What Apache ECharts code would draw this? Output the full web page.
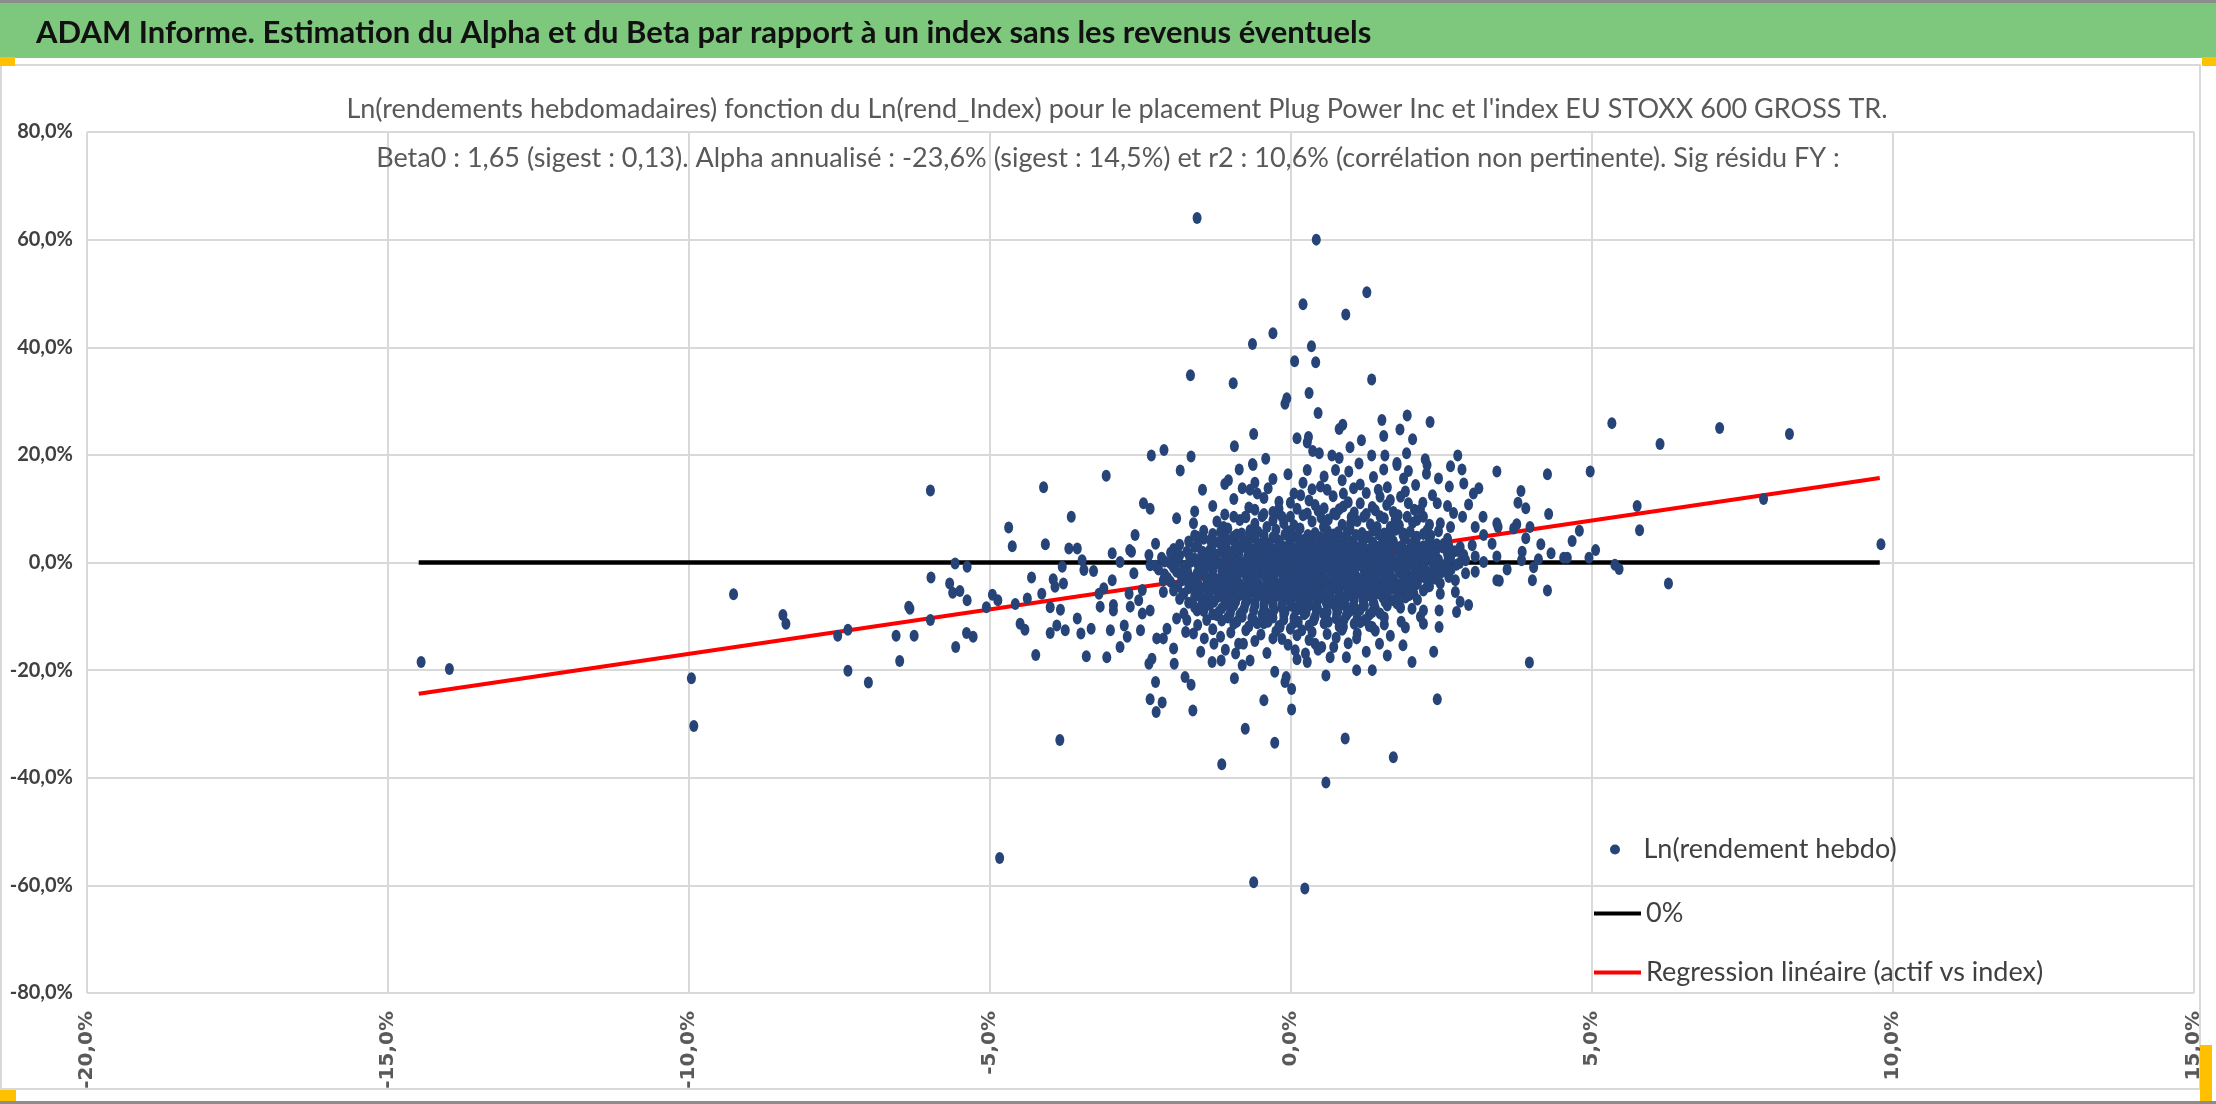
<!DOCTYPE html>
<html>
<head>
<meta charset="utf-8">
<title>ADAM Informe - Alpha Beta</title>
<script src="https://cdn.jsdelivr.net/npm/echarts@6/dist/echarts.min.js"></script>
<style>
  html, body { margin: 0; padding: 0; background: #ffffff; }
  #main { width: 2216px; height: 1104px; }
</style>
</head>
<body>
<div id="main"></div>
<script>
// textes
var titleText = "ADAM Informe. Estimation du Alpha et du Beta par rapport à un index sans les revenus éventuels";
var subLines = [
  "Ln(rendements hebdomadaires) fonction du Ln(rend_Index) pour le placement Plug Power Inc et l'index EU STOXX 600 GROSS TR.",
  "Beta0 : 1,65 (sigest : 0,13). Alpha annualisé : -23,6% (sigest : 14,5%) et r2 : 10,6% (corrélation non pertinente). Sig résidu FY :"
];
var seriesNames = ['Ln(rendement hebdo)', '0%', 'Regression linéaire (actif vs index)'];

// axes (en %)
var xTicks = { min: -20, max: 15, step: 5 };
var yTicks = { min: -80, max: 80, step: 20 };

// points isoles: [rend_index %, rend_actif %]
var leftPts = [[-14.45,-18.5],[-13.98,-19.8],[-9.96,-21.5],[-9.92,-30.4],[-9.26,-5.9],[-8.44,-9.75],[-8.39,-11.4],[-7.53,-13.6],[-7.36,-12.5],[-7.36,-20.1],[-7.02,-22.3],[-6.56,-13.6],[-6.50,-18.3],[-6.35,-8.2],[-6.33,-8.6],[-6.26,-13.6],[-5.99,13.4],[-5.98,-2.8],[-5.99,-10.7],[-5.67,-3.9],[-5.62,-5.6],[-5.58,-0.2],[-5.57,-15.7],[-5.50,-5.3],[-5.38,-0.8],[-5.38,-7.0],[-5.39,-13.1],[-5.28,-13.8],[-5.06,-8.3],[-4.96,-6.0],[-4.87,-7.0],[-4.84,-54.9],[-4.69,6.5],[-4.63,3.0],[-4.58,-7.7],[-4.50,-11.4],[-4.42,-12.5],[-4.38,-6.7],[-4.31,-2.8],[-4.24,-17.2],[-4.14,-5.8],[-4.11,14.0],[-4.08,3.4],[-4.00,-8.3],[-4.00,-13.1],[-3.95,-3.1],[-3.83,-8.8]];

var topPts = [[-1.56,64.0],[0.42,60.0],[1.26,50.2],[0.20,48.0],[0.91,46.1],[-0.30,42.6],[-0.64,40.6],[0.34,40.2],[0.06,37.4],[0.41,37.2],[-1.67,34.8],[-0.96,33.3],[1.34,34.0],[-0.07,30.5],[-0.10,29.5],[0.30,31.5],[0.45,27.8],[1.51,26.5],[1.93,27.3],[2.31,26.1],[0.86,25.6],[0.80,24.8],[1.54,23.5],[1.81,24.7],[2.02,22.9],[-0.62,23.9],[0.10,23.1],[0.29,23.3],[0.27,22.3],[0.98,21.4],[1.17,22.7],[-0.94,21.6],[-2.32,19.9],[-2.11,20.9],[-1.66,19.7],[-0.42,19.3],[-0.64,18.3],[0.36,20.7],[0.47,20.3],[0.68,19.9],[0.80,19.4],[1.34,19.9],[1.56,19.9],[1.92,20.3],[2.23,19.2],[2.77,19.9],[1.76,18.5]];

var bottomPts = [[-3.84,-33.0],[-2.34,-25.4],[-2.14,-26.0],[-2.24,-27.8],[-2.25,-22.2],[-1.66,-22.7],[-1.63,-27.5],[-1.15,-37.5],[-0.76,-30.9],[-0.45,-25.6],[-0.27,-33.5],[0.01,-23.5],[0.01,-27.3],[-0.10,-22.2],[0.90,-32.7],[1.70,-36.2],[2.43,-25.4],[0.58,-40.9],[-0.62,-59.4],[0.23,-60.6]];

var rightPts = [[5.33,25.9],[7.12,25.0],[6.13,22.0],[8.28,23.9],[4.26,16.4],[4.97,16.9],[3.82,13.3],[3.77,11.1],[3.90,10.1],[4.28,9.0],[5.75,10.5],[7.85,11.8],[3.44,6.6],[3.75,7.1],[3.70,6.3],[3.97,6.6],[4.79,5.9],[5.79,6.0],[3.90,4.5],[4.15,3.4],[4.67,4.0],[3.84,2.0],[3.83,0.4],[4.11,0.6],[4.32,1.7],[4.53,0.9],[4.59,0.9],[4.95,0.9],[5.06,2.3],[4.03,-0.9],[3.59,-1.3],[5.38,-0.4],[5.45,-1.2],[3.46,-3.4],[4.01,-3.3],[4.26,-5.2],[6.27,-3.9],[9.80,3.4],[3.96,-18.6]];

var centerPts = [[-3.07,16.1],[-1.84,17.1],[-0.86,17.3],[-0.63,18.1],[0.27,17.2],[0.74,17.2],[0.96,16.9],[1.13,18.4],[1.54,17.3],[1.76,18.1],[2.26,18.1],[2.65,17.9],[2.84,17.3],[3.42,16.9],[-1.04,15.3],[-1.47,13.5],[-0.81,13.8],[-0.68,13.5],[-0.38,13.8],[-0.56,12.8],[0.16,12.5],[0.49,14.1],[0.60,13.5],[0.87,12.8],[1.04,13.8],[1.37,15.9],[1.87,15.6],[2.07,14.4],[2.45,15.6],[2.63,14.1],[2.87,14.7],[3.03,12.8],[3.12,13.8],[1.48,12.2],[1.82,12.2],[-2.45,11.0],[-2.34,10.0],[-0.20,11.3],[-0.01,11.1],[0.40,10.7],[0.87,10.4],[1.15,11.0],[1.59,10.7],[1.95,11.0],[2.19,11.1],[2.43,11.0],[-3.65,8.5],[-1.62,7.3],[-1.23,7.6],[-1.12,6.6],[-0.95,8.5],[-0.76,8.5],[-0.48,8.6],[-0.23,9.1],[-0.01,8.5],[0.27,9.1],[0.71,9.1],[1.21,8.5],[1.73,7.9],[1.93,8.5],[2.09,7.9],[2.48,7.3],[2.65,6.6],[2.85,8.5],[3.06,6.6],[3.19,8.5],[3.42,7.3],[-2.59,5.1],[-2.68,2.3],[-2.65,2.0],[-2.25,3.5],[-3.69,2.6],[-3.55,2.6],[-3.47,0.4],[-2.97,1.7],[-2.84,0.1],[-2.36,1.4],[-1.98,1.4],[-1.73,2.0],[-1.56,4.8],[-1.34,4.2],[-1.17,5.7],[-0.95,4.8],[-0.68,6.0],[-0.40,6.6],[-0.12,7.3],[0.54,6.6],[0.99,7.3],[1.43,6.6],[1.87,5.4],[2.26,6.0],[2.54,3.5],[2.81,2.9],[3.01,3.2],[3.20,5.1],[3.34,3.5],[3.42,1.1],[3.06,1.1],[3.20,0.1],[2.87,1.4],[2.90,-2.0],[3.06,-1.7],[3.42,-3.3],[2.59,-1.4],[2.73,-3.3],[2.73,-5.5],[2.81,-7.3],[2.95,-7.9],[2.75,-9.2],[2.46,-8.9],[2.46,-12.0],[2.37,-16.6],[2.15,-10.1],[2.20,-8.9],[2.01,-8.6],[2.01,-18.5],[1.86,-15.4],[1.83,-11.0],[1.79,-7.6],[1.47,-15.1],[1.35,-20.0],[1.09,-20.0],[1.09,-14.1],[1.23,-10.7],[1.35,-12.0],[0.92,-17.6],[0.87,-12.0],[0.58,-21.0],[0.65,-17.6],[0.71,-15.7],[0.51,-15.7],[0.40,-15.1],[0.27,-18.5],[0.24,-16.9],[0.07,-16.3],[0.18,-12.6],[-0.01,-12.3],[-0.08,-21.3],[-0.27,-20.3],[-0.18,-12.0],[-0.30,-14.1],[-0.68,-18.2],[-0.81,-19.1],[-0.87,-15.1],[-0.79,-15.1],[-0.94,-21.5],[-0.92,-16.9],[-1.09,-16.2],[-1.16,-18.2],[-1.31,-18.5],[-1.17,-13.8],[-1.28,-15.1],[-1.44,-14.1],[-1.62,-13.2],[-1.76,-21.3],[-1.94,-18.8],[-1.95,-16.0],[-2.36,-18.8],[-2.31,-17.9],[-2.06,-12.3],[-2.23,-14.1],[-2.12,-14.1],[-2.50,-12.6],[-2.47,-9.5],[-2.34,-8.9],[-2.72,-13.8],[-2.84,-15.7],[-2.77,-11.7],[-2.95,-8.9],[-3.00,-12.6],[-3.06,-17.6],[-3.40,-17.4],[-3.55,-10.4],[-3.49,-13.2],[-3.32,-12.3],[-3.75,-12.6],[-3.89,-11.7],[-3.78,-3.9],[-3.92,-4.5],[-3.80,-0.8],[-3.44,-1.4],[-3.28,-1.6],[-3.19,-5.8],[-3.11,-4.8],[-3.17,-8.2],[-2.97,-3.3],[-2.95,-7.9],[-2.69,-5.8],[-2.67,-8.2],[-2.53,-7.0],[-2.47,-5.1],[-2.61,-2.0],[-2.34,-0.5],[-2.12,-3.3],[-1.95,-0.8],[-2.12,-5.5],[-1.81,-3.3],[-1.78,-5.8],[-1.62,-4.5],[-1.78,-9.5],[-1.73,-10.7],[-1.56,-8.9],[-1.40,-10.7],[-1.23,-9.8],[-1.48,-6.7],[-1.34,-3.9],[-1.56,-2.0],[-1.67,0.1],[-1.48,1.7],[-1.12,1.7],[-0.95,-0.2],[-1.12,-3.3],[-1.12,-6.4],[-1.01,-9.5],[-0.81,-10.1],[-0.73,-7.0],[-0.90,-4.5],[-0.68,-2.0],[-0.68,1.7],[-0.45,4.2],[-0.34,1.7],[-0.45,-0.8],[-0.34,-3.9],[-0.45,-6.4],[-0.40,-9.5],[-0.56,-11.3],[-0.12,-8.9],[-0.01,-5.8],[-0.12,-3.3],[-0.18,-0.8],[-0.12,2.9],[-0.01,5.4],[0.21,4.2],[0.21,1.1],[0.16,-2.0],[0.21,-4.5],[0.27,-8.2],[0.38,-10.7],[0.54,-9.5],[0.43,-6.4],[0.49,-3.3],[0.43,-0.2],[0.49,2.9],[0.60,4.8],[0.76,3.5],[0.71,1.1],[0.76,-1.4],[0.71,-4.5],[0.82,-7.0],[0.76,-9.5],[0.99,-8.9],[1.04,-5.8],[0.99,-3.3],[0.99,-0.2],[1.04,2.9],[0.93,5.4],[1.26,4.8],[1.26,1.7],[1.32,-1.4],[1.26,-4.5],[1.37,-7.6],[1.48,-9.5],[1.54,-5.8],[1.59,-2.7],[1.54,0.4],[1.59,3.5],[1.82,2.9],[1.82,-0.8],[1.87,-3.9],[2.04,-5.8],[2.09,-2.0],[2.09,1.7],[2.31,1.7],[2.37,-1.4],[2.26,-4.5],[2.48,-5.8],[2.09,4.8],[1.65,6.6]];

// bandes moyennement denses au-dessus et au-dessous du coeur
var upperBand = [[-1.3,10.5],[-0.95,11.8],[-0.7,10.2],[-0.45,12.0],[-0.2,10.0],[0.05,12.8],[0.3,11.5],[0.55,10.1],[0.7,12.3],[0.95,11.2],[1.25,12.9],[1.35,10.3],[1.65,11.6],[1.9,13.2],[2.15,9.8],[2.35,12.5],[2.6,10.5],[-1.1,14.6],[-0.3,15.5],[0.2,14.8],[0.85,15.3],[1.15,14.5],[1.6,14.0],[2.25,16.5],[-0.05,16.4],[0.55,16.0],[1.95,17.0],[-1.6,9.5],[-1.9,8.2],[2.7,9.2],[2.95,10.8],[0.35,13.6],[1.45,13.5],[-0.6,14.8]];

var lowerBand = [[-1.9,-10.4],[-1.55,-11.6],[-1.3,-12.4],[-1.0,-13.0],[-0.75,-12.6],[-0.5,-13.4],[-0.25,-12.8],[0.1,-13.5],[0.35,-12.9],[0.6,-13.3],[0.85,-12.5],[1.1,-13.2],[1.4,-12.7],[1.65,-13.6],[1.9,-12.1],[2.2,-11.4],[-0.6,-14.6],[-0.05,-15.3],[0.3,-14.4],[0.95,-15.0],[1.25,-16.6],[-0.4,-16.8],[0.1,-18.0],[-1.5,-16.6],[1.6,-17.3],[-0.15,-14.2],[0.75,-14.0],[1.55,-11.5],[-1.75,-12.9],[0.45,-16.2]];

// coeur du nuage (zone tres dense, points estimes)
var corePts = [[-0.6,9.8],[-0.3,9.4],[0.1,10.0],[0.45,9.6],[0.8,9.9],[1.05,9.3],[1.4,9.7],[1.7,9.4],[2.05,9.8],
[-0.85,7.9],[-0.6,7.2],[-0.3,7.8],[0.05,6.9],[0.35,7.6],[0.62,8.0],[0.85,7.0],[1.1,7.7],[1.32,7.1],[1.55,8.2],[1.8,6.9],[2.02,7.4],[2.3,7.0],
[-1.45,5.9],[-1.05,6.3],[-0.82,5.4],[-0.55,5.7],[-0.25,6.1],[-0.05,5.8],[0.15,6.3],[0.4,5.5],[0.6,6.0],[0.78,5.6],[0.98,6.2],[1.18,5.5],[1.36,5.9],[1.55,5.4],[1.74,6.1],[1.98,5.7],[2.2,5.3],[2.45,5.8],
[-1.7,3.9],[-1.45,4.4],[-1.2,3.8],[-0.98,4.3],[-0.78,3.9],[-0.6,4.5],[-0.4,3.6],[-0.22,4.2],[-0.02,3.8],[0.12,4.6],[0.33,3.9],[0.5,4.3],[0.68,3.7],[0.86,4.4],[1.02,3.9],[1.18,4.4],[1.36,3.7],[1.52,4.3],[1.7,3.9],[1.9,4.4],[2.08,3.6],[2.3,4.1],[2.6,4.4],
[-1.95,2.5],[-1.6,2.9],[-1.35,2.3],[-1.15,2.8],[-0.95,2.3],[-0.8,2.9],[-0.6,2.4],[-0.45,2.9],[-0.28,2.3],[-0.1,2.7],[0.05,2.2],[0.2,2.8],[0.35,2.4],[0.52,2.9],[0.66,2.3],[0.82,2.8],[0.96,2.2],[1.12,2.7],[1.28,2.3],[1.44,2.9],[1.6,2.4],[1.75,2.8],[1.92,2.2],[2.12,2.7],[2.32,2.3],[2.52,2.8],[2.72,2.1],
[-2.15,0.9],[-1.85,1.3],[-1.6,0.7],[-1.4,1.2],[-1.25,0.6],[-1.05,1.1],[-0.88,0.6],[-0.72,1.2],[-0.55,0.7],[-0.4,1.1],[-0.25,0.5],[-0.08,1.0],[0.06,0.6],[0.22,1.2],[0.36,0.7],[0.5,1.0],[0.64,0.4],[0.8,1.1],[0.94,0.6],[1.1,1.0],[1.22,0.4],[1.38,1.2],[1.5,0.7],[1.66,1.1],[1.8,0.5],[1.95,1.0],[2.12,0.6],[2.28,1.1],[2.45,0.5],[2.65,0.9],[2.9,0.4],
[-2.25,-0.6],[-2.0,-0.2],[-1.78,-0.7],[-1.55,-0.3],[-1.38,-0.8],[-1.2,-0.2],[-1.05,-0.9],[-0.85,-0.4],[-0.7,-0.9],[-0.55,-0.3],[-0.38,-0.7],[-0.25,-0.2],[-0.1,-0.8],[0.05,-0.4],[0.18,-0.9],[0.32,-0.3],[0.46,-0.8],[0.58,-0.2],[0.72,-0.7],[0.86,-0.3],[1.0,-0.9],[1.14,-0.4],[1.28,-0.8],[1.42,-0.2],[1.56,-0.7],[1.7,-0.3],[1.86,-0.9],[2.0,-0.4],[2.18,-0.8],[2.36,-0.2],[2.55,-0.7],[2.75,-0.4],
[-2.1,-2.2],[-1.9,-1.7],[-1.7,-2.3],[-1.5,-1.8],[-1.3,-2.4],[-1.15,-1.6],[-0.98,-2.2],[-0.82,-1.7],[-0.65,-2.5],[-0.5,-1.8],[-0.35,-2.3],[-0.2,-1.6],[-0.05,-2.2],[0.1,-1.7],[0.25,-2.4],[0.38,-1.8],[0.52,-2.3],[0.66,-1.6],[0.8,-2.2],[0.94,-1.8],[1.08,-2.5],[1.22,-1.7],[1.36,-2.2],[1.5,-1.6],[1.65,-2.3],[1.8,-1.8],[1.95,-2.4],[2.12,-1.7],[2.3,-2.2],[2.5,-1.8],
[-2.0,-3.6],[-1.75,-3.2],[-1.55,-3.8],[-1.38,-3.3],[-1.2,-3.9],[-1.02,-3.4],[-0.86,-3.9],[-0.7,-3.2],[-0.55,-3.8],[-0.4,-3.3],[-0.24,-3.9],[-0.08,-3.4],[0.06,-3.8],[0.2,-3.2],[0.34,-3.9],[0.48,-3.5],[0.62,-3.9],[0.76,-3.3],[0.9,-3.8],[1.04,-3.2],[1.18,-3.9],[1.32,-3.4],[1.46,-3.8],[1.6,-3.3],[1.75,-3.9],[1.92,-3.4],[2.1,-3.8],[2.28,-3.3],[2.48,-3.9],
[-1.95,-5.2],[-1.7,-4.8],[-1.5,-5.3],[-1.3,-4.9],[-1.15,-5.4],[-0.98,-4.8],[-0.82,-5.3],[-0.66,-4.9],[-0.5,-5.4],[-0.34,-4.8],[-0.2,-5.3],[-0.05,-4.9],[0.1,-5.4],[0.24,-4.8],[0.38,-5.3],[0.52,-4.9],[0.66,-5.4],[0.8,-4.8],[0.94,-5.3],[1.08,-4.9],[1.22,-5.4],[1.38,-4.8],[1.52,-5.3],[1.68,-4.9],[1.85,-5.4],[2.02,-4.8],[2.2,-5.2],
[-1.85,-6.8],[-1.6,-6.3],[-1.4,-6.9],[-1.22,-6.4],[-1.05,-7.0],[-0.9,-6.4],[-0.74,-6.9],[-0.58,-6.3],[-0.42,-6.9],[-0.28,-6.4],[-0.12,-7.0],[0.02,-6.5],[0.16,-6.9],[0.3,-6.3],[0.45,-6.9],[0.6,-6.4],[0.75,-7.0],[0.9,-6.5],[1.05,-6.9],[1.2,-6.3],[1.36,-6.8],[1.52,-6.4],[1.7,-7.0],[1.9,-6.5],[2.1,-6.9],
[-1.6,-8.3],[-1.35,-7.9],[-1.15,-8.5],[-0.95,-8.0],[-0.78,-8.6],[-0.6,-8.0],[-0.45,-8.5],[-0.3,-7.9],[-0.15,-8.4],[0.0,-8.0],[0.15,-8.6],[0.3,-8.0],[0.44,-8.5],[0.6,-7.9],[0.75,-8.4],[0.9,-8.0],[1.06,-8.6],[1.22,-8.0],[1.4,-8.5],[1.6,-8.0],[1.82,-8.4],
[-1.3,-9.6],[-1.05,-10.2],[-0.85,-9.7],[-0.65,-10.3],[-0.48,-9.6],[-0.3,-10.2],[-0.12,-9.7],[0.05,-10.3],[0.22,-9.6],[0.4,-10.1],[0.58,-9.7],[0.75,-10.4],[0.92,-9.8],[1.1,-10.3],[1.3,-9.7],[1.55,-10.2],
[-0.95,-11.4],[-0.7,-11.9],[-0.45,-11.3],[-0.2,-11.8],[0.05,-11.2],[0.3,-11.7],[0.55,-11.3],[0.8,-11.9],[1.05,-11.4],[1.3,-11.8]];

// seconde couche du coeur, intercalee
var coreFill = [[-1.1,8.9],[-0.75,8.4],[-0.45,9.0],[-0.15,8.5],[0.2,8.8],[0.5,8.3],[0.75,8.9],[1.0,8.4],[1.25,9.0],[1.48,8.6],[1.78,8.8],[2.2,8.5],
[-1.6,5.0],[-1.3,5.3],[-1.1,4.8],[-0.9,5.2],[-0.68,4.9],[-0.45,5.1],[-0.3,4.7],[-0.1,5.2],[0.08,4.8],[0.28,5.1],[0.48,4.7],[0.7,5.2],[0.9,4.8],[1.08,5.1],[1.28,4.7],[1.46,5.2],[1.66,4.8],[1.86,5.1],[2.06,4.7],[2.32,5.0],
[-1.85,3.3],[-1.55,3.0],[-1.3,3.4],[-1.08,3.1],[-0.9,3.5],[-0.7,3.0],[-0.52,3.4],[-0.35,3.0],[-0.18,3.5],[0.0,3.1],[0.14,3.4],[0.28,3.0],[0.44,3.5],[0.58,3.1],[0.74,3.4],[0.9,3.0],[1.04,3.5],[1.2,3.1],[1.36,3.4],[1.52,3.0],[1.68,3.5],[1.84,3.1],[2.0,3.4],[2.2,3.0],[2.42,3.4],[2.62,3.1],
[-2.0,1.8],[-1.7,1.6],[-1.47,2.0],[-1.25,1.5],[-1.05,1.9],[-0.87,1.5],[-0.7,2.0],[-0.52,1.6],[-0.37,2.0],[-0.2,1.5],[-0.04,1.9],[0.12,1.5],[0.28,2.0],[0.42,1.6],[0.58,2.0],[0.72,1.5],[0.88,1.9],[1.02,1.5],[1.18,2.0],[1.32,1.6],[1.48,1.9],[1.62,1.5],[1.78,2.0],[1.9,1.6],[2.05,1.9],[2.22,1.5],[2.4,1.9],[2.6,1.6],[2.82,1.8],
[-2.1,0.2],[-1.9,0.0],[-1.68,0.4],[-1.48,0.0],[-1.3,0.3],[-1.14,-0.1],[-0.96,0.3],[-0.8,0.0],[-0.63,0.4],[-0.47,-0.1],[-0.32,0.3],[-0.17,0.0],[-0.02,0.3],[0.12,0.0],[0.27,0.4],[0.4,-0.1],[0.54,0.3],[0.68,0.0],[0.82,0.4],[0.96,-0.1],[1.08,0.3],[1.2,0.0],[1.34,0.4],[1.46,-0.1],[1.6,0.3],[1.74,0.0],[1.88,0.3],[2.05,0.0],[2.22,0.3],[2.4,0.0],[2.6,0.2],[2.8,-0.1],
[-2.2,-1.3],[-1.95,-1.0],[-1.72,-1.5],[-1.48,-1.1],[-1.3,-1.4],[-1.12,-1.0],[-0.95,-1.5],[-0.78,-1.1],[-0.6,-1.4],[-0.45,-1.0],[-0.3,-1.5],[-0.16,-1.1],[-0.02,-1.4],[0.12,-1.0],[0.26,-1.5],[0.4,-1.1],[0.53,-1.4],[0.66,-1.0],[0.79,-1.5],[0.92,-1.1],[1.06,-1.4],[1.2,-1.0],[1.34,-1.5],[1.48,-1.1],[1.62,-1.4],[1.76,-1.0],[1.9,-1.5],[2.06,-1.1],[2.24,-1.4],[2.44,-1.0],[2.66,-1.3],
[-2.05,-2.9],[-1.82,-2.6],[-1.62,-3.0],[-1.42,-2.7],[-1.25,-3.1],[-1.06,-2.6],[-0.9,-3.0],[-0.74,-2.7],[-0.58,-3.1],[-0.43,-2.6],[-0.28,-3.0],[-0.13,-2.7],[0.02,-3.1],[0.16,-2.6],[0.3,-3.0],[0.44,-2.7],[0.58,-3.1],[0.72,-2.6],[0.86,-3.0],[1.0,-2.7],[1.14,-3.1],[1.28,-2.6],[1.42,-3.0],[1.56,-2.7],[1.7,-3.1],[1.86,-2.6],[2.02,-3.0],[2.2,-2.7],[2.4,-3.0],[2.62,-2.7],
[-1.88,-4.4],[-1.62,-4.1],[-1.42,-4.5],[-1.25,-4.2],[-1.08,-4.6],[-0.92,-4.1],[-0.76,-4.5],[-0.6,-4.2],[-0.45,-4.6],[-0.3,-4.1],[-0.14,-4.5],[0.0,-4.2],[0.14,-4.6],[0.28,-4.1],[0.42,-4.5],[0.56,-4.2],[0.7,-4.6],[0.84,-4.1],[0.98,-4.5],[1.12,-4.2],[1.26,-4.6],[1.42,-4.1],[1.58,-4.5],[1.74,-4.2],[1.9,-4.6],[2.08,-4.1],[2.3,-4.4],
[-1.8,-5.9],[-1.55,-6.1],[-1.36,-5.7],[-1.2,-6.2],[-1.02,-5.7],[-0.86,-6.1],[-0.7,-5.6],[-0.54,-6.1],[-0.38,-5.7],[-0.24,-6.2],[-0.08,-5.7],[0.06,-6.1],[0.2,-5.6],[0.34,-6.1],[0.5,-5.7],[0.64,-6.2],[0.8,-5.7],[0.96,-6.1],[1.12,-5.6],[1.28,-6.1],[1.44,-5.7],[1.6,-6.2],[1.78,-5.7],[1.96,-6.1],
[-1.7,-7.5],[-1.48,-7.7],[-1.28,-7.3],[-1.1,-7.8],[-0.92,-7.3],[-0.76,-7.7],[-0.6,-7.2],[-0.45,-7.7],[-0.3,-7.3],[-0.15,-7.8],[0.0,-7.3],[0.14,-7.7],[0.28,-7.2],[0.42,-7.7],[0.58,-7.3],[0.72,-7.8],[0.88,-7.3],[1.04,-7.7],[1.2,-7.2],[1.38,-7.7],[1.56,-7.3],[1.76,-7.6],
[-1.45,-9.0],[-1.2,-9.2],[-1.0,-8.8],[-0.82,-9.3],[-0.62,-8.9],[-0.45,-9.3],[-0.28,-8.8],[-0.1,-9.2],[0.08,-8.9],[0.25,-9.3],[0.42,-8.8],[0.6,-9.2],[0.78,-8.9],[0.95,-9.3],[1.15,-8.8],[1.35,-9.2],
[-1.15,-10.8],[-0.9,-11.0],[-0.62,-10.7],[-0.38,-11.0],[-0.12,-10.6],[0.12,-11.0],[0.38,-10.7],[0.62,-11.0],[0.88,-10.7],[1.15,-11.1]];

// droites
var zeroLine = [[-14.49, 0], [9.78, 0]];
var regLine = [[-14.49, -24.4], [9.78, 15.7]];

var scatterData = leftPts.concat(topPts, bottomPts, rightPts, centerPts, upperBand, lowerBand, corePts, coreFill);

function pct(v) {
  return v.toFixed(1).replace('.', ',') + '%';
}

var chart = echarts.init(document.getElementById('main'));

var legendText = { fontFamily: 'Lato', fontSize: 27, color: '#404040' };

var option = {
  animation: false,
  backgroundColor: '#ffffff',
  graphic: [
    // cadre et bandeau vert
    { type: 'rect', shape: { x: 0, y: 0, width: 2216, height: 3 }, style: { fill: '#8c8c8c' }, z: 0 },
    { type: 'rect', shape: { x: 0, y: 3, width: 2216, height: 55 }, style: { fill: '#7dc87d' }, z: 0 },
    { type: 'rect', shape: { x: 0, y: 64, width: 2200, height: 2 }, style: { fill: '#d9d9d9' }, z: 0 },
    { type: 'rect', shape: { x: 2199, y: 64, width: 2, height: 1026 }, style: { fill: '#d9d9d9' }, z: 0 },
    { type: 'rect', shape: { x: 0, y: 64, width: 2, height: 1026 }, style: { fill: '#d9d9d9' }, z: 0 },
    { type: 'rect', shape: { x: 0, y: 1088, width: 2200, height: 2 }, style: { fill: '#d9d9d9' }, z: 0 },
    { type: 'rect', shape: { x: 0, y: 1101, width: 2216, height: 3 }, style: { fill: '#8c8c8c' }, z: 0 },
    // poignees de selection
    { type: 'rect', shape: { x: 0, y: 57, width: 15, height: 9 }, style: { fill: '#ffc000' }, z: 5 },
    { type: 'rect', shape: { x: 2202, y: 57, width: 14, height: 9 }, style: { fill: '#ffc000' }, z: 5 },
    { type: 'rect', shape: { x: 0, y: 1090, width: 16, height: 11 }, style: { fill: '#ffc000' }, z: 5 },
    { type: 'rect', shape: { x: 2200, y: 1045, width: 12, height: 56 }, style: { fill: '#ffc000' }, z: 5 },
    // sous-titre sur deux lignes
    { type: 'text', x: 1117, y: 109, z: 5,
      style: { text: subLines[0], align: 'center', verticalAlign: 'middle',
               fontFamily: 'Lato', fontSize: 27, fill: '#595959' } },
    { type: 'text', x: 1108, y: 158, z: 5,
      style: { text: subLines[1], align: 'center', verticalAlign: 'middle',
               fontFamily: 'Lato', fontSize: 27, fill: '#595959' } }
  ],
  title: {
    text: titleText, left: 31, top: 12,
    textStyle: { fontFamily: 'Lato', fontWeight: 'bold', fontSize: 31, color: '#111111' }
  },
  legend: [
    { data: [{ name: seriesNames[0], icon: 'circle' }], left: 1610, top: 836, padding: 0,
      itemWidth: 47, itemHeight: 10, textStyle: legendText },
    { data: [{ name: seriesNames[1], icon: 'rect' }], left: 1594, top: 900, padding: 0,
      itemWidth: 47, itemHeight: 4, textStyle: legendText },
    { data: [{ name: seriesNames[2], icon: 'rect' }], left: 1594, top: 959, padding: 0,
      itemWidth: 47, itemHeight: 4, textStyle: legendText }
  ],
  grid: { left: 87, right: 22, top: 132, bottom: 111, containLabel: false },
  xAxis: {
    type: 'value', min: xTicks.min, max: xTicks.max, interval: xTicks.step,
    axisLine: { show: false }, axisTick: { show: false },
    splitLine: { show: true, lineStyle: { color: '#d9d9d9', width: 2 } },
    axisLabel: {
      rotate: 90, margin: 18, formatter: pct,
      fontFamily: 'DejaVu Sans', fontWeight: 'bold', fontSize: 20, color: '#595959'
    }
  },
  yAxis: {
    type: 'value', min: yTicks.min, max: yTicks.max, interval: yTicks.step,
    axisLine: { show: false }, axisTick: { show: false },
    splitLine: { show: true, lineStyle: { color: '#d9d9d9', width: 2 } },
    axisLabel: {
      margin: 14, formatter: pct,
      fontFamily: 'Lato', fontWeight: 'bold', fontSize: 20, color: '#404040'
    }
  },
  series: [
    {
      name: seriesNames[0], type: 'scatter', data: scatterData, z: 4,
      symbol: 'circle', symbolSize: [9, 12],
      itemStyle: { color: '#264478', opacity: 1 }
    },
    {
      name: seriesNames[1], type: 'line', data: zeroLine, z: 2,
      symbol: 'none', itemStyle: { color: '#000000' },
      lineStyle: { color: '#000000', width: 4.5 }
    },
    {
      name: seriesNames[2], type: 'line', data: regLine, z: 2,
      symbol: 'none', itemStyle: { color: '#ff0000' },
      lineStyle: { color: '#ff0000', width: 4 }
    }
  ]
};

chart.setOption(option);
</script>
</body>
</html>
